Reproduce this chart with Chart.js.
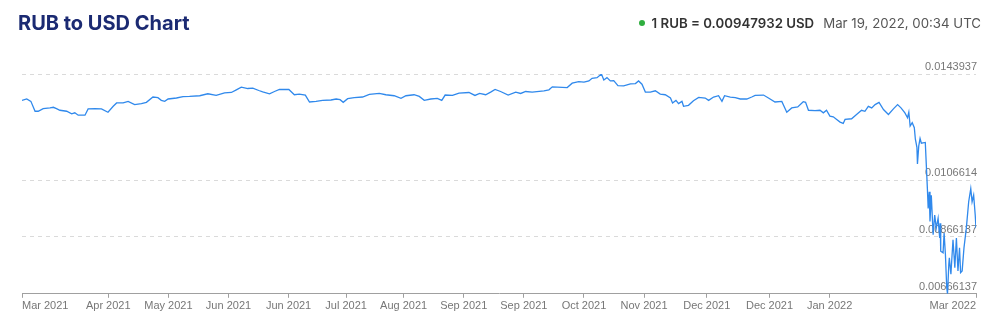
<!DOCTYPE html>
<html>
<head>
<meta charset="utf-8">
<script src="https://cdn.jsdelivr.net/npm/chart.js@4.4.0/dist/chart.umd.min.js"></script>
<style>
  body { margin: 0; background: #fff; }
  .wrap { position: relative; width: 1000px; height: 320px; }
  .title { position: absolute; left: 18px; top: 11px; font: bold 20px Inter, sans-serif; color: #1b2a72; }
  .rate { position: absolute; right: 19px; top: 15px; font: 13.25px Inter, sans-serif; color: #555; white-space: nowrap; }
  .rate b { color: #333; font-weight: 600; margin-right: 9px; }
  .dot { display: inline-block; width: 6px; height: 6px; border-radius: 50%; background: #2fae3f; margin-right: 7px; vertical-align: middle; position: relative; top: -1px; }
  canvas { position: absolute; left: 0; top: 0; }
</style>
</head>
<body>
<div class="wrap">
  <canvas id="chart" width="1000" height="320"></canvas>
  <div class="title">RUB to USD Chart</div>
  <div class="rate"><span class="dot"></span><b>1 RUB = 0.00947932 USD</b>Mar 19, 2022, 00:34 UTC</div>
</div>
<script>
// days since Mar 19, 2021
const days = [
  0, 1.8, 3.4, 5.0, 6.2, 8.1, 10.7, 12.0, 13.2, 14.5, 17.1, 19.0, 20.2, 21.5, 24.1, 25.3, 27.9, 30.4, 32.9, 34.9,
  36.2, 38.7, 40.6, 43.1, 45.7, 47.6, 50.1, 52.0, 53.3, 54.6, 55.9, 59.1, 61.6, 64.1, 68.0, 71.1, 74.3, 77.5, 80.1, 82.0,
  83.9, 86.4, 88.3, 90.6, 92.1, 94.7, 96.6, 98.5, 102.1, 104.2, 106.1, 108.4, 110.0, 112.5, 115.0, 118.2, 120.2, 121.7, 122.9, 124.6,
  127.1, 130.3, 132.9, 136.7, 139.2, 142.4, 145.0, 146.9, 150.0, 152.0, 153.9, 156.4, 158.9, 160.6, 161.9, 164.7, 167.2, 171.0, 173.3, 175.1,
  177.4, 179.3, 181.0, 183.1, 186.0, 188.9, 190.8, 192.7, 195.2, 199.7, 201.6, 202.9, 208.6, 210.5, 213.0, 215.0, 216.9, 218.1, 220.0, 221.7,
  222.6, 223.8, 225.1, 226.4, 228.0, 230.2, 232.8, 234.7, 235.9, 237.2, 238.5, 240.4, 242.3, 244.2, 246.1, 248.1, 248.9, 250.2, 251.2, 252.5,
  253.1, 255.0, 256.9, 258.9, 261.4, 262.7, 264.6, 266.5, 267.8, 268.8, 271.0, 272.9, 274.8, 277.3, 279.2, 280.5, 283.7, 285.6, 288.1, 290.7,
  292.6, 294.5, 296.8, 298.9, 299.8, 300.9, 303.4, 305.3, 306.6, 307.8, 309.1, 310.4, 311.7, 313.0, 314.2, 314.9, 317.4, 319.3, 321.2, 322.5,
  323.8, 325.1, 326.4, 327.9, 329.6, 331.5, 333.4, 335.0, 336.3, 337.8, 338.8, 339.3, 339.8, 340.6, 341.4, 341.8, 342.4, 342.6, 343.1, 343.6,
  344.1, 345.6, 346.4, 346.7, 347.1, 347.4, 347.9, 348.6, 349.2, 349.8, 350.5, 351.1, 351.3, 351.5, 352.4, 352.8, 353.3, 353.8, 354.1, 354.6,
  354.8, 355.4, 356.2, 356.9, 357.5, 358.1, 358.7, 359.1, 359.7, 360.4, 361.3, 362.2, 363.0, 363.5, 364.1, 364.7, 365.0
];
// USD per 1 RUB
const rates = [
  0.0134657, 0.0135143, 0.0134309, 0.0130833, 0.0130833, 0.0131772, 0.0132015, 0.0132224, 0.0131772, 0.0131181,
  0.0130833, 0.0129930, 0.0130277, 0.0129443, 0.0129443, 0.0131667, 0.0131772, 0.0131667, 0.0130486, 0.0132571,
  0.0133753, 0.0133753, 0.0134309, 0.0133162, 0.0133510, 0.0133961, 0.0135838, 0.0135595, 0.0134657, 0.0134309,
  0.0135143, 0.0135491, 0.0135943, 0.0136047, 0.0136290, 0.0136985, 0.0136395, 0.0137333, 0.0137437, 0.0138376,
  0.0139314, 0.0138828, 0.0138967, 0.0138132, 0.0137681, 0.0136985, 0.0137785, 0.0138480, 0.0138480, 0.0136638,
  0.0136881, 0.0136534, 0.0134100, 0.0134309, 0.0134657, 0.0134796, 0.0135143, 0.0134900, 0.0133961, 0.0135247,
  0.0135595, 0.0135838, 0.0136742, 0.0137090, 0.0136638, 0.0136290, 0.0135352, 0.0136290, 0.0136638, 0.0136047,
  0.0134657, 0.0135143, 0.0135352, 0.0134657, 0.0136534, 0.0136395, 0.0137229, 0.0137437, 0.0136395, 0.0137090,
  0.0136638, 0.0137576, 0.0138480, 0.0137785, 0.0136534, 0.0137576, 0.0137090, 0.0137785, 0.0137576, 0.0138028,
  0.0138376, 0.0139418, 0.0139175, 0.0140705, 0.0141261, 0.0141052, 0.0141504, 0.0142442, 0.0142651, 0.0143937,
  0.0141852, 0.0142651, 0.0141504, 0.0141608, 0.0139870, 0.0139766, 0.0140461, 0.0140565, 0.0141504, 0.0140357,
  0.0137576, 0.0137576, 0.0138028, 0.0136881, 0.0136638, 0.0135491, 0.0133753, 0.0134657, 0.0133510, 0.0134309,
  0.0132571, 0.0132919, 0.0134552, 0.0135699, 0.0135491, 0.0134657, 0.0135838, 0.0136290, 0.0134309, 0.0136290,
  0.0135838, 0.0135595, 0.0135143, 0.0135143, 0.0135838, 0.0136395, 0.0136534, 0.0135491, 0.0134100, 0.0134309,
  0.0130486, 0.0132015, 0.0132363, 0.0134205, 0.0133961, 0.0131181, 0.0131077, 0.0131181, 0.0130277, 0.0131181,
  0.0129095, 0.0128887, 0.0127948, 0.0127010, 0.0126558, 0.0127948, 0.0128192, 0.0129686, 0.0131181, 0.0130833,
  0.0132571, 0.0132015, 0.0133162, 0.0133961, 0.0131424, 0.0129686, 0.0131667, 0.0133162, 0.0132015, 0.0130277,
  0.0128539, 0.0130486, 0.0125620, 0.0126801, 0.0125063, 0.0120997, 0.0118112, 0.0112307, 0.0118668, 0.0121240,
  0.0119606, 0.0119850, 0.0103618, 0.0096666, 0.0102471, 0.0092043, 0.0101289, 0.0087386, 0.0094337, 0.0089715,
  0.0093190, 0.0086239, 0.0091452, 0.0081616, 0.0081025, 0.0087977, 0.0080434, 0.0068860, 0.00666137, 0.0076958,
  0.0079287, 0.0073482, 0.0085648, 0.0075811, 0.0086239, 0.0074664, 0.0082763, 0.0074074, 0.0074664, 0.0082763,
  0.0089715, 0.0098995, 0.0103618, 0.0098995, 0.0101289, 0.0094337, 0.0089715
];

const xTickDays = [0, 33, 56, 79, 102, 124, 146, 169, 192, 215, 238, 262, 286, 309, 365];
const xTickLabels = ['Mar 2021', 'Apr 2021', 'May 2021', 'Jun 2021', 'Jun 2021', 'Jul 2021', 'Aug 2021',
  'Sep 2021', 'Sep 2021', 'Oct 2021', 'Nov 2021', 'Dec 2021', 'Dec 2021', 'Jan 2022', 'Mar 2022'];
const yTickValues = [0.00666137, 0.00866137, 0.0106614, 0.0143937];
const yTickLabels = ['0.00666137', '0.00866137', '0.0106614', '0.0143937'];

const labelFont = { family: 'Liberation Sans', size: 11 };

const ctx = document.getElementById('chart').getContext('2d');
new Chart(ctx, {
  type: 'line',
  data: {
    datasets: [{
      data: days.map((d, i) => ({ x: d, y: rates[i] })),
      borderColor: '#3089ec',
      borderWidth: 1.3,
      pointRadius: 0,
      tension: 0,
      fill: false,
    }],
  },
  options: {
    responsive: false,
    animation: false,
    layout: { padding: { left: 22, right: 22, top: 74, bottom: 5 } },
    plugins: { legend: { display: false }, tooltip: { enabled: false } },
    scales: {
      x: {
        type: 'linear',
        min: 0,
        max: 365,
        bounds: 'data',
        afterBuildTicks: (scale) => { scale.ticks = xTickDays.map(v => ({ value: v })); },
        grid: { drawOnChartArea: false, drawTicks: true, tickLength: 4, color: '#a0a0a0' },
        border: { color: '#a0a0a0' },
        ticks: {
          autoSkip: false,
          maxRotation: 0,
          align: 'inner',
          padding: 2,
          color: '#777',
          font: labelFont,
          callback: (value, index) => xTickLabels[index],
        },
      },
      y: {
        position: 'right',
        min: yTickValues[0],
        max: yTickValues[yTickValues.length - 1],
        bounds: 'data',
        afterBuildTicks: (scale) => { scale.ticks = yTickValues.map(v => ({ value: v })); },
        grid: {
          drawTicks: false,
          color: (c) => c.index === 0 ? 'rgba(0,0,0,0)' : '#dadada',
        },
        border: { display: false, dash: [4, 4] },
        ticks: {
          mirror: true,
          padding: 1,
          labelOffset: -7,
          color: '#777',
          font: labelFont,
          callback: (value, index) => yTickLabels[index],
        },
      },
    },
  },
});
</script>
</body>
</html>
